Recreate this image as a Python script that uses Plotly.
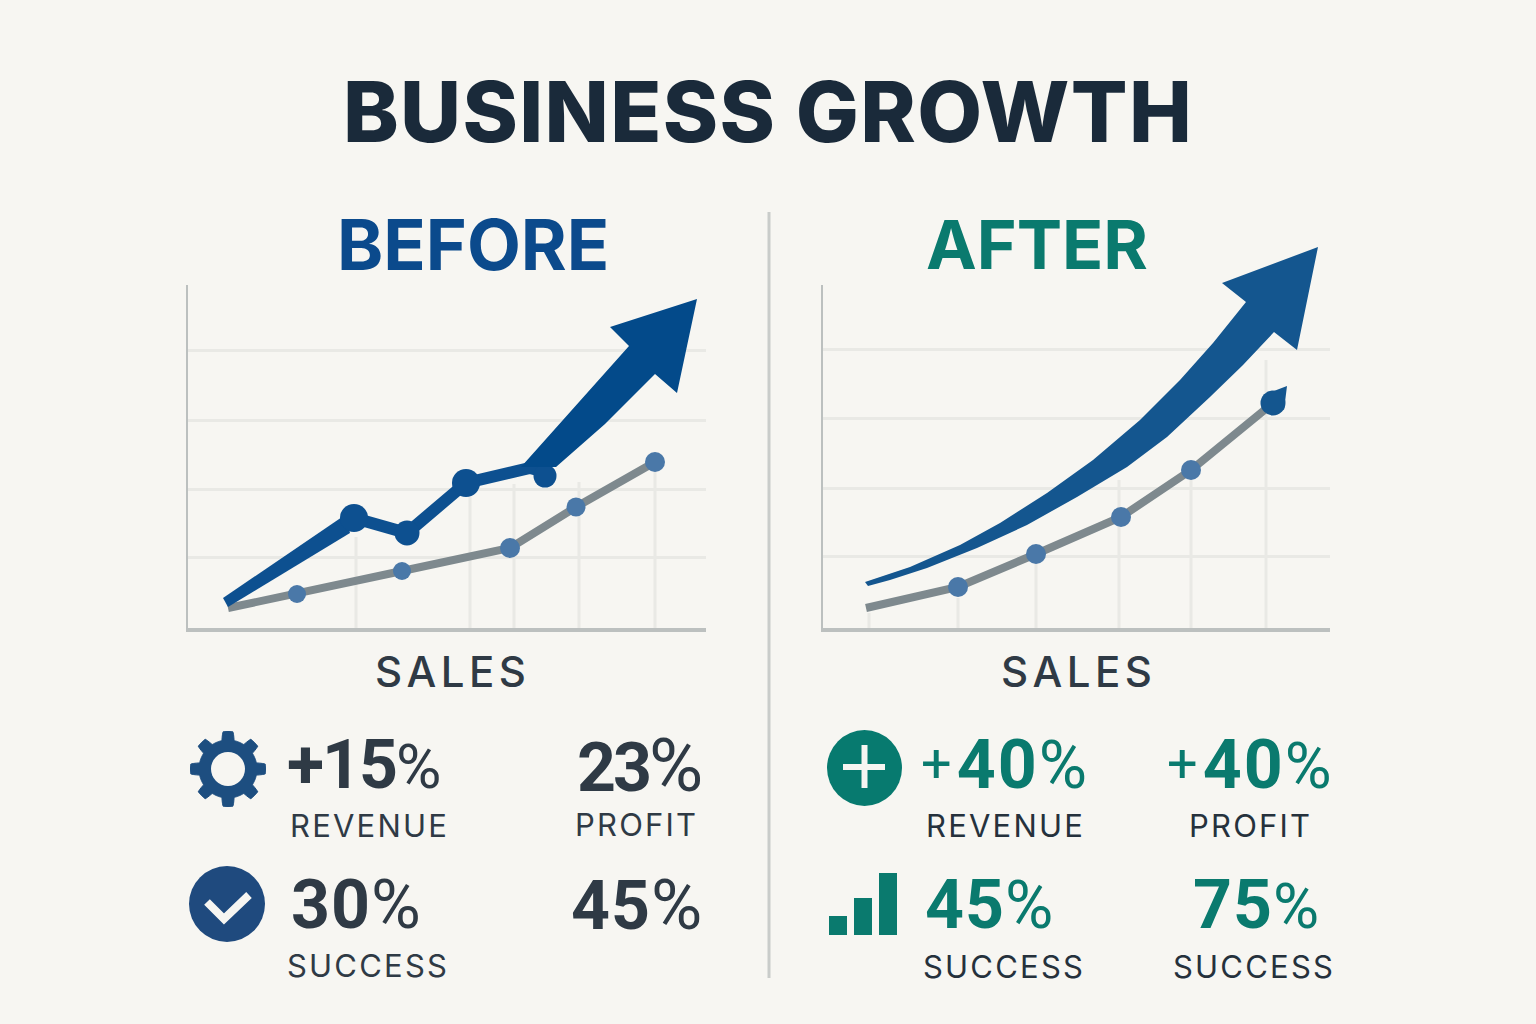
"""Business growth before/after infographic, rebuilt with Plotly."""

import math

import plotly.graph_objects as go

W, H = 1536, 1024
BG = "#f7f6f2"
NAVY = "#0b4a8c"
TEAL = "#0a7a6e"
DARK = "#2f3a45"
GREY_LINE = "#7e898e"
DOT = "#4a78a8"
GRID = "#e9e9e5"
AXIS = "#bcc0bf"

# --- values ---
before_grid_y = [71, 139, 208, 278]
before_grid_x = [170, 284, 328, 393, 469]
before_grid_top = [91, 131, 144, 146, 158]

before_main_x = [168, 221, 280, 344, 359]
before_main_y = [110, 95, 145, 160, 156]
before_node_x = [168, 221, 280, 359]
before_node_y = [110, 95, 145, 152]
before_start_x = [37, 159, 164, 42]
before_start_y = [30, 113, 95, 21]
before_arrow_x = [335, 443, 424, 511, 491, 469, 419, 370]
before_arrow_y = [161, 282, 301, 329, 235, 254, 204, 161]

before_base_x = [42, 111, 216, 324, 390, 469]
before_base_y = [20, 34, 57, 80, 121, 166]

after_grid_y = [72, 140, 210, 279]
after_grid_x = [48, 137, 215, 298, 370, 445]
after_grid_top = [15, 30, 68, 148, 155, 268]

after_arrow_x = [44, 89, 139, 179, 226, 272, 319, 359, 392, 425, 401, 497,
                 476, 453, 422, 389, 346, 306, 256, 206, 156, 106, 69, 47]
after_arrow_y = [46, 61, 83, 105, 135, 168, 208, 248, 285, 326, 345, 381,
                 278, 296, 263, 231, 191, 161, 131, 103, 80, 60, 48, 42]

after_base_x = [45, 137, 215, 300, 370, 452]
after_base_y = [20, 41, 74, 111, 158, 225]
after_tip_x = [442, 466, 463]
after_tip_y = [233, 242, 218]

icon_bars = [19, 37, 62]

before_stats = ["+15%", "23%", "30%", "45%"]
before_labels = ["REVENUE", "PROFIT", "SUCCESS"]
after_stats = ["+40%", "+40%", "45%", "75%"]
after_labels = ["REVENUE", "PROFIT", "SUCCESS", "SUCCESS"]


def px(x):
    return x / W


def py(y):
    return 1 - y / H


def label(fig, x, y, text, size, color, family="Inter", weight=400, spacing=0):
    if spacing:
        text = f'<span style="letter-spacing:{spacing}px">{text}</span>'
    fig.add_annotation(
        x=px(x), y=py(y), xref="paper", yref="paper", text=text,
        showarrow=False, xanchor="center", yanchor="middle",
        font=dict(family=family, size=size, color=color, weight=weight),
    )


def stat_text(value, thin_plus, pct_size, digit_gap):
    """Bold digits with a lighter percent sign."""
    number = value.rstrip("%")
    plus = ""
    if thin_plus and number.startswith("+"):
        plus = ('<span style="font-weight:400;font-size:54px;letter-spacing:5px;'
                'baseline-shift:6px">+</span>')
        number = number[1:]
    digits = f'<span style="font-weight:700;letter-spacing:{digit_gap}px">{number}</span>'
    pct = f'<span style="font-weight:400;font-size:{pct_size}px">%</span>'
    return f"{plus}{digits}{pct}"


def grid_trace(xs, tops, xaxis, yaxis):
    x, y = [], []
    for gx, top in zip(xs, tops):
        x += [gx, gx, None]
        y += [0, top, None]
    return go.Scatter(x=x, y=y, mode="lines", xaxis=xaxis, yaxis=yaxis,
                      line=dict(color=GRID, width=3), hoverinfo="skip")


def gear_path(cx, cy, outer, root, teeth=8, samples=240):
    # rounded teeth: clip a cosine between the root and outer radius
    pts = []
    for i in range(samples):
        a = 2 * math.pi * i / samples
        t = min(1, max(0, 1.7 * math.cos(teeth * a) + 0.2))
        r = root + (outer - root) * t
        pts.append((cx + r * math.sin(a), cy - r * math.cos(a)))
    return "M" + " L".join(f"{x / W:.5f},{1 - y / H:.5f}" for x, y in pts) + " Z"


fig = go.Figure()

# BEFORE chart
fig.add_trace(grid_trace(before_grid_x, before_grid_top, "x", "y"))
fig.add_trace(go.Scatter(x=before_base_x, y=before_base_y, mode="lines", xaxis="x", yaxis="y",
                         line=dict(color=GREY_LINE, width=8), hoverinfo="skip"))
fig.add_trace(go.Scatter(x=before_base_x[1:], y=before_base_y[1:], mode="markers", xaxis="x", yaxis="y",
                         marker=dict(color=DOT, size=[18, 18, 20, 19, 20], opacity=1, line_width=0),
                         hoverinfo="skip"))
fig.add_trace(go.Scatter(x=before_start_x, y=before_start_y, fill="toself", mode="none", xaxis="x", yaxis="y",
                         fillcolor="#0d5090", hoverinfo="skip"))
fig.add_trace(go.Scatter(x=before_main_x, y=before_main_y, mode="lines", xaxis="x", yaxis="y",
                         line=dict(color="#0d5090", width=12), hoverinfo="skip"))
fig.add_trace(go.Scatter(x=before_node_x, y=before_node_y, mode="markers", xaxis="x", yaxis="y",
                         marker=dict(color="#0d5090", size=[28, 25, 28, 23], opacity=1, line_width=0),
                         hoverinfo="skip"))
fig.add_trace(go.Scatter(x=before_arrow_x, y=before_arrow_y, fill="toself", mode="none", xaxis="x", yaxis="y",
                         fillcolor="#034a8a", hoverinfo="skip"))

# AFTER chart
fig.add_trace(grid_trace(after_grid_x, after_grid_top, "x2", "y2"))
fig.add_trace(go.Scatter(x=after_arrow_x, y=after_arrow_y, fill="toself", mode="none", xaxis="x2", yaxis="y2",
                         fillcolor="#14568f", hoverinfo="skip"))
fig.add_trace(go.Scatter(x=after_base_x, y=after_base_y, mode="lines", xaxis="x2", yaxis="y2",
                         line=dict(color=GREY_LINE, width=8), hoverinfo="skip"))
fig.add_trace(go.Scatter(x=after_base_x[1:-1], y=after_base_y[1:-1], mode="markers", xaxis="x2", yaxis="y2",
                         marker=dict(color=DOT, size=20, opacity=1, line_width=0), hoverinfo="skip"))
fig.add_trace(go.Scatter(x=after_tip_x, y=after_tip_y, fill="toself", mode="none", xaxis="x2", yaxis="y2",
                         fillcolor="#14568f", hoverinfo="skip"))
fig.add_trace(go.Scatter(x=after_base_x[-1:], y=after_base_y[-1:], mode="markers", xaxis="x2", yaxis="y2",
                         marker=dict(color="#14568f", size=25, opacity=1, line_width=0), hoverinfo="skip"))

# little bar icon
fig.add_trace(go.Bar(x=[0, 1, 2], y=icon_bars, xaxis="x3", yaxis="y3", marker=dict(color=TEAL, line_width=0),
                     hoverinfo="skip"))


def chart_x(left, right, top_range):
    return dict(domain=[px(left), px(right)], range=[0, top_range], showgrid=False, zeroline=False,
                showticklabels=False, ticks="", showline=True, linecolor=AXIS, linewidth=4,
                fixedrange=True)


def chart_y(grid_y, anchor, top_px, top_value):
    # no axis line here, the arrow in the AFTER panel rises above it: see axis_line()
    return dict(domain=[py(628), py(top_px)], range=[0, top_value], tickmode="array", tickvals=grid_y,
                showgrid=True, gridcolor=GRID, gridwidth=3, zeroline=False, showticklabels=False,
                ticks="", showline=False, anchor=anchor, fixedrange=True)


def axis_line(xref, yref):
    return dict(type="line", xref=xref, yref=yref, x0=0, x1=0, y0=0, y1=343,
                line=dict(color=AXIS, width=4))


shapes = [
    axis_line("x", "y"),
    axis_line("x2", "y2"),
    # divider
    dict(type="line", xref="paper", yref="paper", x0=px(769), x1=px(769), y0=py(212), y1=py(978),
         line=dict(color="#c9ccca", width=3)),
    # gear
    dict(type="path", xref="paper", yref="paper", path=gear_path(228, 769, 37.5, 29),
         fillcolor="#1d4e80", line=dict(color="#1d4e80", width=1)),
    dict(type="circle", xref="paper", yref="paper", x0=px(211), x1=px(245), y0=py(786), y1=py(752),
         fillcolor=BG, line_width=0),
    # check badge
    dict(type="circle", xref="paper", yref="paper", x0=px(189), x1=px(265), y0=py(942), y1=py(866),
         fillcolor="#1f4a7e", line_width=0),
    dict(type="path", xref="paper", yref="paper",
         path=f"M{px(207)},{py(902)} L{px(224)},{py(919)} L{px(249)},{py(895)}",
         line=dict(color=BG, width=8)),
    # plus badge
    dict(type="circle", xref="paper", yref="paper", x0=px(827), x1=px(902), y0=py(806), y1=py(730),
         fillcolor="#077a6f", line_width=0),
    dict(type="line", xref="paper", yref="paper", x0=px(843), x1=px(885), y0=py(767), y1=py(767),
         line=dict(color=BG, width=6)),
    dict(type="line", xref="paper", yref="paper", x0=px(864.5), x1=px(864.5), y0=py(788), y1=py(745),
         line=dict(color=BG, width=6)),
]

fig.update_layout(
    width=W, height=H, autosize=False, margin=dict(l=0, r=0, t=0, b=0),
    paper_bgcolor=BG, plot_bgcolor="rgba(0,0,0,0)", showlegend=False, bargap=0.28,
    xaxis=chart_x(186, 706, 520), yaxis=chart_y(before_grid_y, "x", 285, 343),
    xaxis2=chart_x(821, 1330, 509), yaxis2=chart_y(after_grid_y, "x2", 243, 385),
    xaxis3=dict(domain=[px(825.5), px(900.5)], range=[-0.5, 2.5], visible=False, fixedrange=True),
    yaxis3=dict(domain=[py(935), py(873)], range=[0, 62], visible=False, anchor="x3", fixedrange=True),
    shapes=shapes,
)
fig.update_layout(xaxis2_anchor="y2", xaxis3_anchor="y3")

# headings
label(fig, 768, 111, "BUSINESS GROWTH", 84, "#1a2a3a", weight=800, spacing=1.3)
label(fig, 473, 244, "BEFORE", 70, NAVY, weight=700)
label(fig, 1037, 244, "AFTER", 68, TEAL, weight=700)
label(fig, 452, 671, "SALES", 42, DARK, weight=500, spacing=4.5)
label(fig, 1078, 671, "SALES", 42, DARK, weight=500, spacing=4.5)

# stats: percent sign size and digit gap vary a little from one to the next
before_pct = [62, 74, 68, 70]
before_gap = [-2, -3, 1, 1]
after_pct = [66, 64, 66, 63]
after_gap = [2, 2, 1, 1]
for (cx, cy), value, pct, gap in zip([(364, 765), (640, 765), (356, 905), (636, 905)],
                                     before_stats, before_pct, before_gap):
    label(fig, cx, cy, stat_text(value, False, pct, gap), 68, DARK, family="Roboto")
for (cx, cy), value, pct, gap in zip([(1004, 765), (1249, 765), (989, 905), (1256, 905)],
                                     after_stats, after_pct, after_gap):
    label(fig, cx, cy, stat_text(value, True, pct, gap), 68, TEAL, family="Roboto")

for (cx, cy), text in zip([(369, 825), (636, 824), (368, 965)], before_labels):
    label(fig, cx, cy, text, 31, DARK, spacing=2.2)
for (cx, cy), text in zip([(1005, 825), (1250, 825), (1004, 966), (1254, 966)], after_labels):
    label(fig, cx, cy, text, 31, "#25313c", spacing=2.2)

# plotly's page keeps the browser's 8px body margin, drop it
fig.write_html("out.html", config={"displayModeBar": False},
               post_script="document.body.style.margin='0';document.body.style.overflow='hidden';")
